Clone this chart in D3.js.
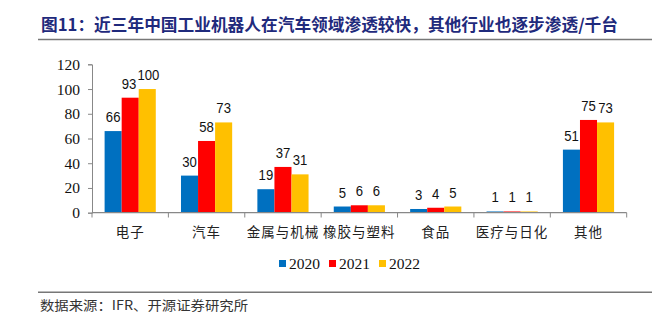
<!DOCTYPE html>
<html><head><meta charset="utf-8">
<script src="https://cdn.jsdelivr.net/npm/d3@7"></script>
<style>body{margin:0;background:#fff}svg{display:block}</style>
</head><body>
<script>
const categories = ["电子","汽车","金属与机械","橡胶与塑料","食品","医疗与日化","其他"];
const years = ["2020","2021","2022"];
const v2020 = [66,30,19,5,3,1,51];
const v2021 = [93,58,37,6,4,1,75];
const v2022 = [100,73,31,6,5,1,73];
const yTicks = [0,20,40,60,80,100,120];
const colors = ["#0070C0","#FF0000","#FFC000"];
const series = [v2020,v2021,v2022];

const W=665,H=322;
const serif="'Liberation Serif','Times New Roman',serif";
const svg=d3.select("body").append("svg").attr("width",W).attr("height",H);

// title
svg.append("text").attr("x",41).attr("y",31)
  .attr("font-family","'Noto Sans CJK SC'").attr("font-weight","bold").attr("font-size",16.5)
  .attr("fill","#1F2A7C").attr("textLength",577).attr("lengthAdjust","spacingAndGlyphs")
  .text("图11：近三年中国工业机器人在汽车领域渗透较快，其他行业也逐步渗透/千台");
svg.append("line").attr("x1",38).attr("x2",652).attr("y1",39.5).attr("y2",39.5).attr("stroke","#777").attr("stroke-width",1.5);
svg.append("line").attr("x1",38).attr("x2",652).attr("y1",292.3).attr("y2",292.3).attr("stroke","#777").attr("stroke-width",1.5);
svg.append("text").attr("x",40).attr("y",310)
  .attr("font-family","'Noto Sans CJK SC'").attr("font-size",13).attr("fill","#333")
  .attr("textLength",208).attr("lengthAdjust","spacingAndGlyphs")
  .text("数据来源：IFR、开源证券研究所");

const x0=d3.scaleBand().domain(categories).range([92,626.7]).paddingInner(0.33).paddingOuter(0.165);
const x1=d3.scaleBand().domain(years).range([0,x0.bandwidth()]);
const y=d3.scaleLinear().domain([0,120]).range([212.7,64.3]);

// y axis
const ya=svg.append("g").attr("transform","translate(92,0)")
  .call(d3.axisLeft(y).tickValues(yTicks).tickSize(4).tickPadding(8));
ya.attr("font-family",serif);
ya.selectAll("path,line").attr("stroke","#888");
ya.selectAll("text").attr("font-family",serif).attr("font-size",15.5).attr("fill","#111");

// bars
const g=svg.append("g");
const digitW=7.3;
categories.forEach((c,i)=>{
  const labs=series.map((s,j)=>{
    const w=String(s[i]).length*digitW;
    return {v:s[i], cx:x0(c)+x1(years[j])+x1.bandwidth()/2, w, y:y(s[i])-9};
  });
  for(let j=1;j<labs.length;j++){
    const a=labs[j-1], b=labs[j];
    if(Math.abs(a.y-b.y)<14){
      const ov=(a.cx+a.w/2)-(b.cx-b.w/2)+1;
      if(ov>0){a.cx-=ov/2;b.cx+=ov/2;}
    }
  }
  series.forEach((s,j)=>{
    g.append("rect").attr("x",x0(c)+x1(years[j])).attr("width",x1.bandwidth())
      .attr("y",y(s[i])).attr("height",y(0)-y(s[i])).attr("fill",colors[j]);
    const L=labs[j];
    g.append("text").attr("x",L.cx).attr("y",L.y)
      .attr("text-anchor","middle").attr("font-family","'Liberation Sans'").attr("font-size",15.5)
      .attr("textLength",L.w).attr("lengthAdjust","spacingAndGlyphs")
      .attr("fill","#111").text(L.v);
  });
});

// x axis
const xa=svg.append("g");
xa.append("line").attr("x1",92).attr("x2",626.7).attr("y1",212.7).attr("y2",212.7).attr("stroke","#888").attr("stroke-width",1.2);
const step=(626.7-92)/categories.length;
d3.range(categories.length+1).forEach(k=>{
  xa.append("line").attr("x1",92+k*step).attr("x2",92+k*step).attr("y1",212.7).attr("y2",217.5).attr("stroke","#888");
});
categories.forEach(c=>{
  xa.append("text").attr("x",x0(c)+x0.bandwidth()/2).attr("y",237)
    .attr("text-anchor","middle").attr("font-family","'Noto Sans CJK SC'").attr("font-size",13.5)
    .attr("letter-spacing",1).attr("fill","#222").text(c);
});

// legend
const lx=[279,329,379];
years.forEach((yr,j)=>{
  svg.append("rect").attr("x",lx[j]).attr("y",260).attr("width",7).attr("height",7).attr("fill",colors[j]);
  svg.append("text").attr("x",lx[j]+10).attr("y",269).attr("font-family",serif).attr("font-size",15.5).attr("fill","#111").text(yr);
});
</script>
</body></html>
